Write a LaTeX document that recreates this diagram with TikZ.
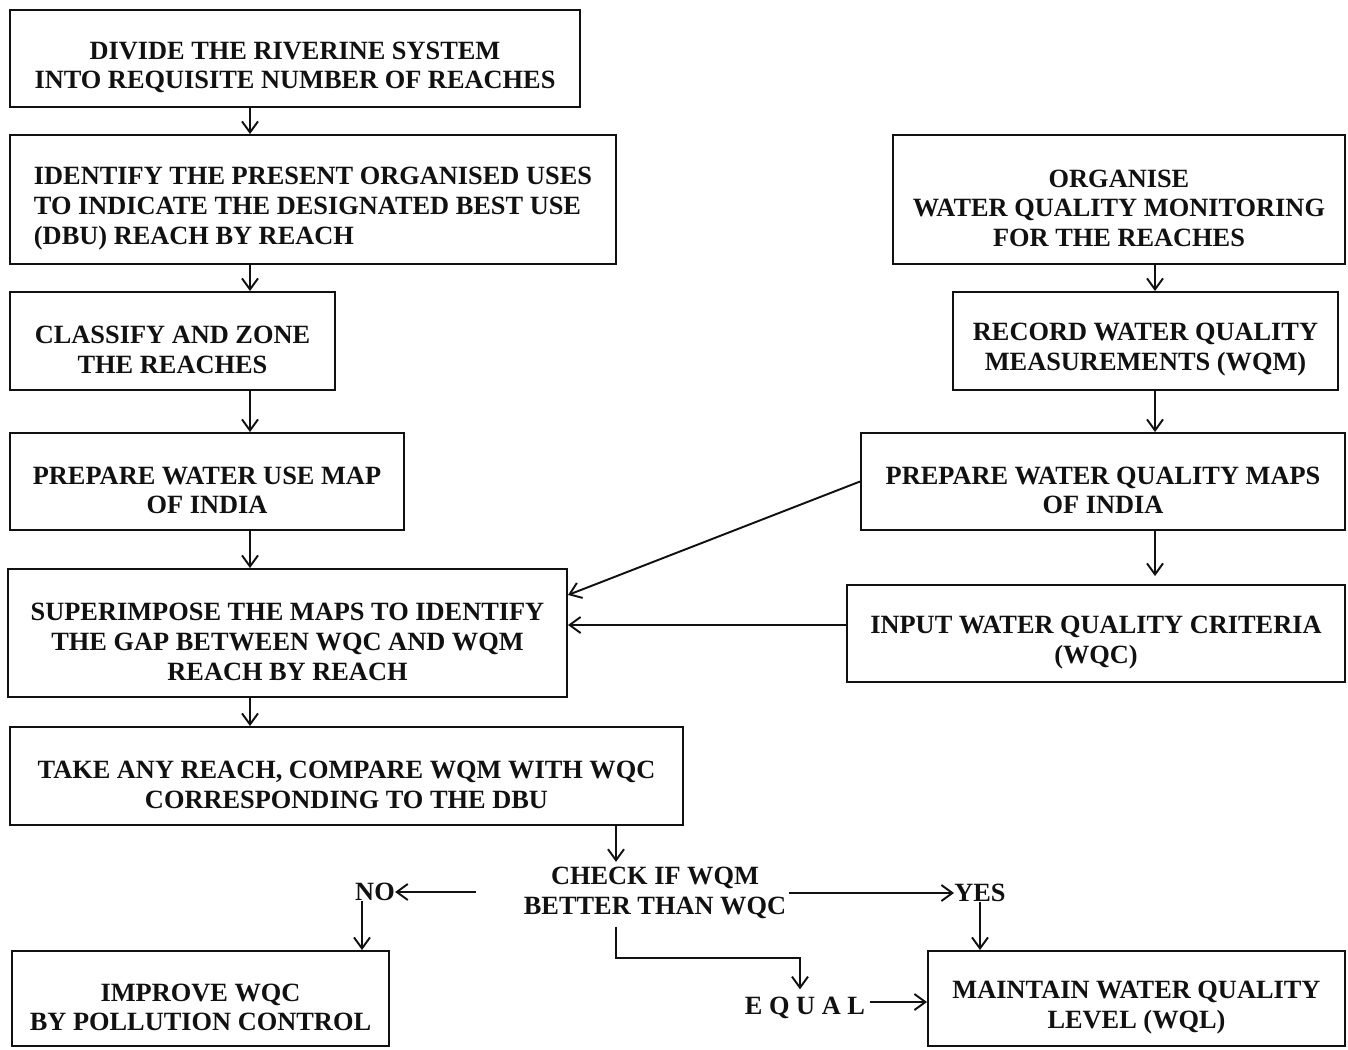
\documentclass[tikz,border=0pt]{standalone}
\usepackage{fontspec}
\setmainfont{Liberation Serif}
\usepackage{xcolor}
\usepackage{tikz}
\usetikzlibrary{arrows.meta}
\definecolor{ink}{HTML}{111111}
\newcommand{\topgap}{\rule{0pt}{20pt}}
\tikzset{
  box/.style={draw=ink, line width=1.1pt, align=center, inner sep=0pt,
    font=\bfseries\fontsize{15}{17}\selectfont, text=ink},
  lab/.style={inner sep=0pt, font=\bfseries\fontsize{15}{17}\selectfont, text=ink, align=center},
  arr/.style={-{Straight Barb[length=2.2mm,width=3.2mm]}, line width=1.1pt, draw=ink}
}

\begin{document}
\begin{tikzpicture}
  \useasboundingbox (0,0) rectangle (26.96,-20.98);

  \coordinate (colL) at (5,0);
  \coordinate (colR) at (23.1,0);

  % left column
  \node[box, minimum width=11.4cm, minimum height=1.94cm] (divide) at (5.9,-1.17)
    {\topgap DIVIDE THE RIVERINE SYSTEM\\INTO REQUISITE NUMBER OF REACHES};
  \node[box, minimum width=12.12cm, minimum height=2.58cm, align=left] (identify) at (6.26,-3.99)
    {\topgap IDENTIFY THE PRESENT ORGANISED USES\\TO INDICATE THE DESIGNATED BEST USE\\(DBU) REACH BY REACH};
  \node[box, minimum width=6.5cm, minimum height=1.96cm] (classify) at (3.45,-6.82)
    {\topgap CLASSIFY AND ZONE\\THE REACHES};
  \node[box, minimum width=7.88cm, minimum height=1.94cm] (usemap) at (4.14,-9.63)
    {\topgap PREPARE WATER USE MAP\\OF INDIA};
  \node[box, minimum width=11.18cm, minimum height=2.56cm] (superimpose) at (5.75,-12.66)
    {\topgap SUPERIMPOSE THE MAPS TO IDENTIFY\\THE GAP BETWEEN WQC AND WQM\\REACH BY REACH};
  \node[box, minimum width=13.46cm, minimum height=1.96cm] (compare) at (6.93,-15.52)
    {\topgap TAKE ANY REACH, COMPARE WQM WITH WQC\\CORRESPONDING TO THE DBU};

  % right column
  \node[box, minimum width=9.04cm, minimum height=2.58cm] (organise) at (22.38,-3.99)
    {\topgap ORGANISE\\WATER QUALITY MONITORING\\FOR THE REACHES};
  \node[box, minimum width=7.7cm, minimum height=1.96cm] (record) at (22.91,-6.82)
    {\topgap RECORD WATER QUALITY\\MEASUREMENTS (WQM)};
  \node[box, minimum width=9.68cm, minimum height=1.94cm] (qualmap) at (22.06,-9.63)
    {\topgap PREPARE WATER QUALITY MAPS\\OF INDIA};
  \node[box, minimum width=9.96cm, minimum height=1.94cm] (criteria) at (21.92,-12.67)
    {\topgap INPUT WATER QUALITY CRITERIA\\(WQC)};

  % decision
  \node[lab] (check) at (13.1,-17.86) {CHECK IF WQM\\BETTER THAN WQC};
  \node[lab] (no) at (7.5,-17.84) {NO};
  \node[lab] (yes) at (19.6,-17.86) {YES};
  \node[lab] (equal) at (16.1,-20.16) {E Q U A L};
  \node[box, minimum width=7.54cm, minimum height=1.9cm] (improve) at (4.01,-19.97)
    {\topgap IMPROVE WQC\\BY POLLUTION CONTROL};
  \node[box, minimum width=8.34cm, minimum height=1.9cm] (maintain) at (22.73,-19.97)
    {\topgap MAINTAIN WATER QUALITY\\LEVEL (WQL)};

  \draw[arr] (divide.south -| colL) -- (identify.north -| colL);
  \draw[arr] (identify.south -| colL) -- (classify.north -| colL);
  \draw[arr] (classify.south -| colL) -- (usemap.north -| colL);
  \draw[arr] (usemap.south -| colL) -- (superimpose.north -| colL);
  \draw[arr] (superimpose.south -| colL) -- (compare.north -| colL);

  \draw[arr] (organise.south -| colR) -- (record.north -| colR);
  \draw[arr] (record.south -| colR) -- (qualmap.north -| colR);
  \draw[arr] (qualmap.south -| colR) -- ([yshift=0.16cm]criteria.north -| colR);

  \draw[arr] (qualmap.west) -- ([yshift=0.76cm]superimpose.east);
  \draw[arr] ([yshift=0.17cm]criteria.west) -- ([yshift=0.17cm]criteria.west -| superimpose.east);

  \draw[arr] (compare.south -| 12.32,0) -- ([yshift=0.1cm]check.north -| 12.32,0);
  \draw[arr] ([xshift=-0.96cm]check.west |- no.east) -- (no.east);
  \draw[arr] ([xshift=0.06cm]check.east |- yes.west) -- (yes.west);
  \draw[arr] ([xshift=-0.26cm]no.south) -- ([xshift=-0.26cm]no.south |- improve.north);
  \draw[arr] (yes.south) -- (yes.south |- maintain.north);
  \draw[arr] ([yshift=-0.15cm]check.south -| 12.32,0) |- (16,-19.16) -- ([yshift=0.15cm]equal.north -| 16,0);
  \draw[arr] ([xshift=0.1cm,yshift=0.12cm]equal.east) -- ([yshift=0.12cm]equal.east -| maintain.west);
\end{tikzpicture}
\end{document}
